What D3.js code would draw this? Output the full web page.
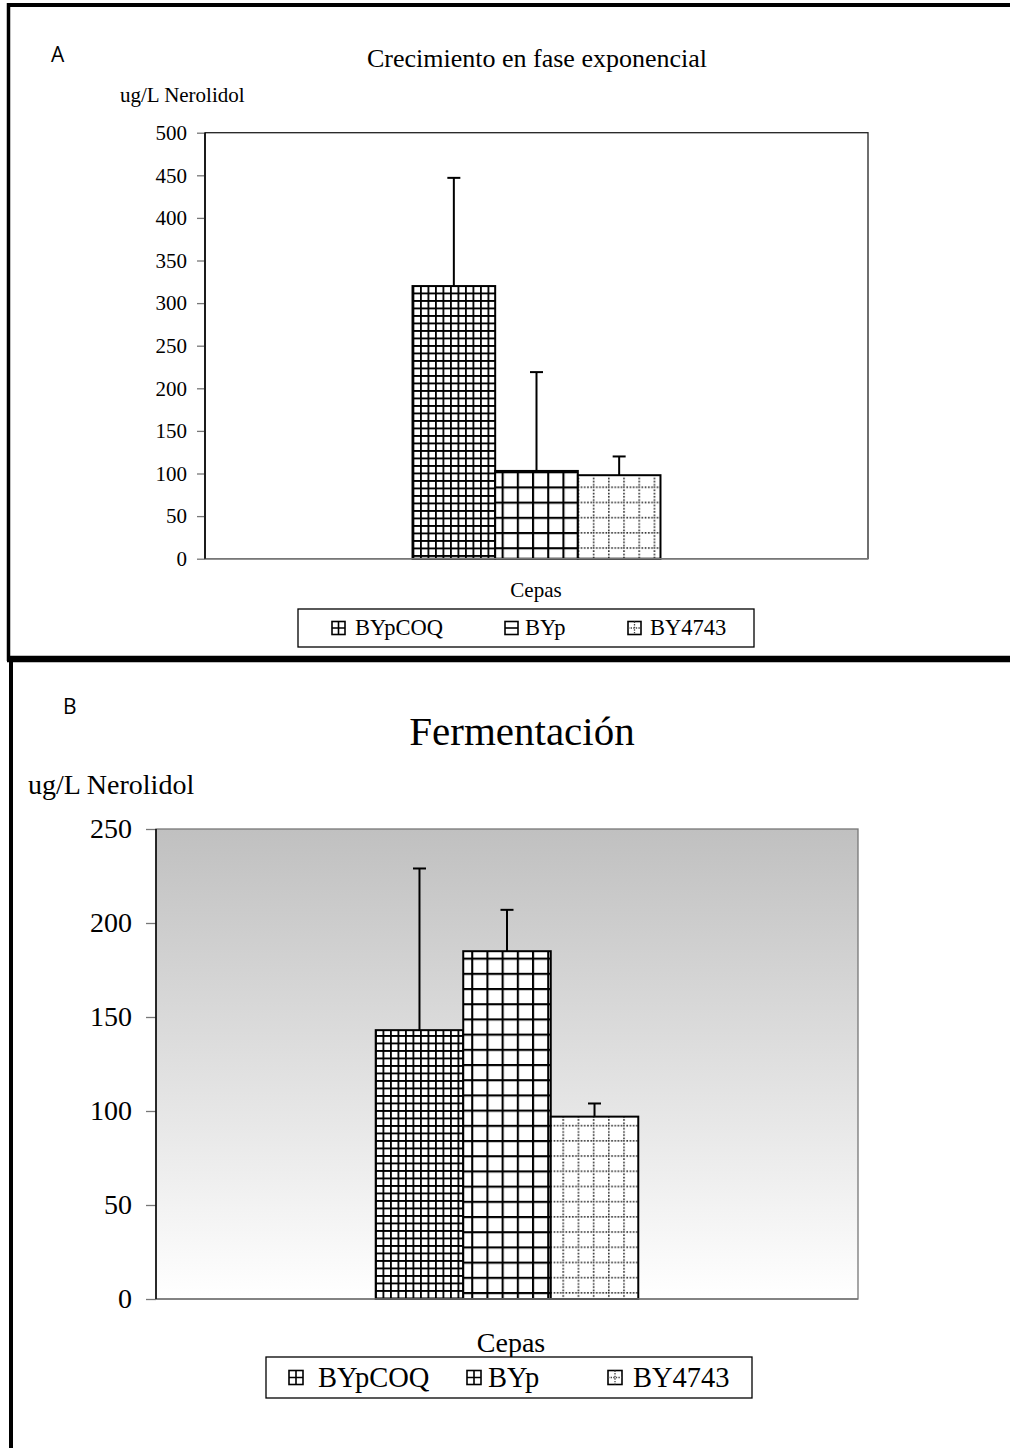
<!DOCTYPE html>
<html>
<head>
<meta charset="utf-8">
<script src="https://cdn.jsdelivr.net/npm/d3@7"></script>
<style>
  html, body { margin: 0; padding: 0; background: #fff; }
  svg { display: block; }
  text { font-family: "Liberation Serif", "Times New Roman", serif; fill: #000; }
  .tag { font-family: "Open Sans", "Liberation Sans", sans-serif; }
</style>
</head>
<body>
<svg id="chart" width="1010" height="1448"></svg>
<script>
// Strains and measured nerolidol (ug/L) with upper error bars
const strains = ["BYpCOQ", "BYp", "BY4743"];
const category = ["Cepas"];

const expValues = [320, 103, 98];
const expErrors = [127, 116, 22];
const expTicks = [0, 50, 100, 150, 200, 250, 300, 350, 400, 450, 500];

const fermValues = [143, 185, 97];
const fermErrors = [86, 22, 7];
const fermTicks = [0, 50, 100, 150, 200, 250];

const svg = d3.select("#chart");
const defs = svg.append("defs");

// Fill patterns for the three strains
function gridPattern(id, size, width, color, dash) {
  const p = defs.append("pattern").attr("id", id)
    .attr("patternUnits", "userSpaceOnUse")
    .attr("width", size).attr("height", size);
  p.append("rect").attr("width", size).attr("height", size).attr("fill", "#fff");
  p.append("path")
    .attr("d", `M${width / 2},0V${size}M0,${width / 2}H${size}`)
    .attr("stroke", color).attr("stroke-width", width)
    .attr("stroke-dasharray", dash || null)
    .attr("fill", "none");
}
gridPattern("pat0", 7.5, 1.8, "#000");
gridPattern("pat1", 15.2, 2.1, "#000");
gridPattern("pat2", 15.2, 1.6, "#333", "1.6,1.6");

const grad = defs.append("linearGradient").attr("id", "bgB")
  .attr("x1", 0).attr("y1", 0).attr("x2", 0).attr("y2", 1);
grad.append("stop").attr("offset", "0%").attr("stop-color", "#c0c0c0");
grad.append("stop").attr("offset", "100%").attr("stop-color", "#ffffff");

// Outer frames of the two panels
svg.append("path").attr("d", "M8.5,5H1010").attr("stroke", "#000").attr("stroke-width", 4);
svg.append("path").attr("d", "M8.5,3V661").attr("stroke", "#000").attr("stroke-width", 3.5);
svg.append("path").attr("d", "M7,659H1010").attr("stroke", "#000").attr("stroke-width", 6.5);
svg.append("path").attr("d", "M11,660V1448").attr("stroke", "#000").attr("stroke-width", 4);

function drawPanel(o) {
  const g = svg.append("g");
  const y = d3.scaleLinear().domain([0, o.max]).range([o.bottom, o.top]);
  const x0 = d3.scaleBand().domain(category).range([o.left, o.right]);
  const gw = x0.bandwidth() * 0.374;
  const gx = x0(category[0]) + (x0.bandwidth() - gw) / 2;
  const x1 = d3.scaleBand().domain(strains).range([gx, gx + gw]);

  // Plot area
  g.append("rect")
    .attr("x", o.left).attr("y", o.top)
    .attr("width", o.right - o.left).attr("height", o.bottom - o.top)
    .attr("fill", o.bg).attr("stroke", o.frame).attr("stroke-width", 1.3);

  // Bars
  const data = strains.map((s, i) => ({ s, i, v: o.values[i], e: o.errors[i] }));
  g.selectAll(".bar").data(data).join("rect")
    .attr("class", "bar")
    .attr("x", d => x1(d.s)).attr("width", x1.bandwidth())
    .attr("y", d => y(d.v)).attr("height", d => y(0) - y(d.v))
    .attr("fill", d => `url(#pat${d.i})`)
    .attr("stroke", "#000").attr("stroke-width", 2);

  // Upper error bars
  const eb = g.selectAll(".err").data(data).join("g").attr("class", "err");
  eb.append("line")
    .attr("x1", d => x1(d.s) + x1.bandwidth() / 2).attr("x2", d => x1(d.s) + x1.bandwidth() / 2)
    .attr("y1", d => y(d.v)).attr("y2", d => y(d.v + d.e))
    .attr("stroke", "#000").attr("stroke-width", 2);
  eb.append("line")
    .attr("x1", d => x1(d.s) + x1.bandwidth() / 2 - 6.5).attr("x2", d => x1(d.s) + x1.bandwidth() / 2 + 6.5)
    .attr("y1", d => y(d.v + d.e)).attr("y2", d => y(d.v + d.e))
    .attr("stroke", "#000").attr("stroke-width", 2);

  // Axes
  const ax = g.append("g").attr("transform", `translate(${o.left},0)`)
    .call(d3.axisLeft(y).tickValues(o.ticks).tickSize(o.tickLen).tickSizeOuter(0).tickPadding(o.tickPad));
  ax.select(".domain").remove();
  ax.selectAll(".tick line").attr("stroke", "#777").attr("stroke-width", 1.3);
  ax.selectAll(".tick text")
    .style("font-family", '"Liberation Serif", "Times New Roman", serif')
    .style("font-size", o.tickFont + "px").attr("fill", "#000");
  g.append("line").attr("x1", o.left).attr("x2", o.right)
    .attr("y1", o.bottom).attr("y2", o.bottom)
    .attr("stroke", "#777").attr("stroke-width", 1.5);
  g.append("line").attr("x1", o.left).attr("x2", o.left)
    .attr("y1", o.top).attr("y2", o.bottom)
    .attr("stroke", "#000").attr("stroke-width", 1.5);

  // Texts
  g.append("text").attr("class", "tag").attr("x", o.tag[1]).attr("y", o.tag[2])
    .style("font-size", "21px").text(o.tag[0]);
  g.append("text").attr("x", o.title[1]).attr("y", o.title[2])
    .attr("text-anchor", "middle").style("font-size", o.title[3] + "px").text(o.title[0]);
  g.append("text").attr("x", o.ylab[0]).attr("y", o.ylab[1])
    .style("font-size", o.ylab[2] + "px").text("ug/L Nerolidol");
  g.append("text").attr("x", o.xlab[0]).attr("y", o.xlab[1])
    .attr("text-anchor", "middle").style("font-size", o.xlab[2] + "px").text(category[0]);

  // Legend
  const L = o.legend;
  g.append("rect").attr("x", L.x).attr("y", L.y).attr("width", L.w).attr("height", L.h)
    .attr("fill", "#fff").attr("stroke", "#000").attr("stroke-width", 1.3);
  const items = g.selectAll(".leg").data(data).join("g").attr("class", "leg")
    .attr("transform", d => `translate(${L.sx[d.i]},${L.y + L.h / 2})`);
  const k = L.box;
  items.append("rect").attr("x", 0).attr("y", -k / 2).attr("width", k).attr("height", k)
    .attr("fill", "#fff").attr("stroke", "#000").attr("stroke-width", 1.6);
  items.append("path")
    .attr("d", d => {
      const h = `M0,0H${k}`;
      const v = `M${k / 2},${-k / 2}V${k / 2}`;
      return (d.i === 1 && !L.crossBYp) ? h : h + v;
    })
    .attr("stroke", d => d.i === 2 ? "#444" : "#000")
    .attr("stroke-width", d => d.i === 2 ? 1.3 : 1.6)
    .attr("stroke-dasharray", d => d.i === 2 ? "1.4,1.2" : null)
    .attr("fill", "none");
  items.append("text").attr("x", d => L.tx[d.i] - L.sx[d.i]).attr("y", 0)
    .attr("dy", "0.33em").style("font-size", L.font + "px").text(d => d.s);
}

drawPanel({
  left: 205, right: 868, top: 132.7, bottom: 558.7, max: 500,
  values: expValues, errors: expErrors, ticks: expTicks,
  bg: "#fff", frame: "#222",
  tickLen: 8, tickPad: 10, tickFont: 21,
  tag: ["A", 51, 62],
  title: ["Crecimiento en fase exponencial", 537, 67, 26],
  ylab: [120, 102, 21],
  xlab: [536, 597, 21],
  legend: { x: 298, y: 609, w: 456, h: 38, box: 13, font: 22.5,
            sx: [332, 505, 628], tx: [355, 525, 650], crossBYp: false }
});

drawPanel({
  left: 156, right: 858, top: 829, bottom: 1299, max: 250,
  values: fermValues, errors: fermErrors, ticks: fermTicks,
  bg: "url(#bgB)", frame: "#777",
  tickLen: 10, tickPad: 14, tickFont: 28,
  tag: ["B", 63, 714],
  title: ["Fermentación", 522, 745, 41],
  ylab: [28, 794, 28],
  xlab: [511, 1352, 28],
  legend: { x: 266, y: 1357, w: 486, h: 41, box: 14, font: 28.5,
            sx: [289, 467, 608], tx: [318, 488, 633], crossBYp: true }
});
</script>
</body>
</html>
